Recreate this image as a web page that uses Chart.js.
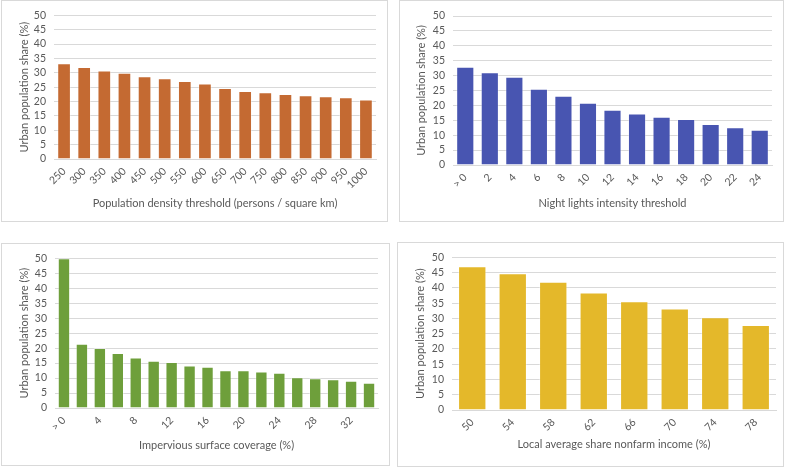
<!DOCTYPE html>
<html>
<head>
<meta charset="utf-8">
<script src="https://cdn.jsdelivr.net/npm/chart.js@4/dist/chart.umd.min.js"></script>
<style>
  html, body { margin: 0; padding: 0; background: #ffffff; }
  body { width: 789px; height: 468px; position: relative; overflow: hidden; }
  .panel { position: absolute; box-sizing: border-box; border: 1px solid #d9d9d9; background: #fff; }
  canvas { position: absolute; left: 0; top: 0; }
</style>
</head>
<body>
<div class="panel" id="p1"><canvas id="c1"></canvas></div>
<div class="panel" id="p2"><canvas id="c2"></canvas></div>
<div class="panel" id="p3"><canvas id="c3"></canvas></div>
<div class="panel" id="p4"><canvas id="c4"></canvas></div>
<script>
// ---- data ----
const densityLabels = ["250","300","350","400","450","500","550","600","650","700","750","800","850","900","950","1000"];
const densityValues = [33.3,32.0,30.8,30.0,28.8,28.1,27.1,26.3,24.7,23.7,23.2,22.6,22.2,21.8,21.5,20.7];

const lightsLabels = ["> 0","2","4","6","8","10","12","14","16","18","20","22","24"];
const lightsValues = [33.0,31.1,29.6,25.6,23.2,20.9,18.5,17.3,16.2,15.4,13.8,12.7,11.8];

const imperviousLabels = ["> 0","2","4","6","8","10","12","14","16","18","20","22","24","26","28","30","32","34"];
const imperviousValues = [50.0,21.5,20.0,18.4,16.9,15.8,15.4,14.2,13.8,12.6,12.6,12.2,11.8,10.3,9.9,9.6,9.1,8.4];

const nonfarmLabels = ["50","54","58","62","66","70","74","78"];
const nonfarmValues = [47.1,44.8,42.0,38.5,35.6,33.2,30.4,27.8];

const yTicks = [0,5,10,15,20,25,30,35,40,45,50];
const yTitle = "Urban population share (%)";

// ---- layout ----
const panels = [
  { id: "1", box: {x:1, y:0, w:387, h:222}, plot: {l:53, t:14, r:375, b:158}, xTitlePad: 13, yTitlePad: 16,
    labels: densityLabels, values: densityValues, color: "#C46A32", barPct: 0.68, every: 1,
    xTitle: "Population density threshold (persons / square km)" },
  { id: "2", box: {x:399, y:0, w:385, h:222}, plot: {l:452, t:15, r:771, b:164}, xTitlePad: 13, yTitlePad: 15,
    labels: lightsLabels, values: lightsValues, color: "#4855B1", barPct: 0.74, every: 1,
    xTitle: "Night lights intensity threshold" },
  { id: "3", box: {x:1, y:243, w:389, h:223}, plot: {l:54, t:255, r:377, b:407}, xTitlePad: 15, yTitlePad: 16,
    labels: imperviousLabels, values: imperviousValues, color: "#6E9F3B", barPct: 0.69, every: 2,
    xTitle: "Impervious surface coverage (%)" },
  { id: "4", box: {x:397, y:242, w:387, h:225}, plot: {l:451, t:254, r:775, b:409}, xTitlePad: 17, yTitlePad: 16,
    labels: nonfarmLabels, values: nonfarmValues, color: "#E4B82A", barPct: 0.70, every: 1,
    xTitle: "Local average share nonfarm income (%)" }
];

const FONT = "Lato, 'Open Sans', sans-serif";
const TXT = "#595959";

panels.forEach(p => {
  const div = document.getElementById("p" + p.id);
  div.style.left = p.box.x + "px";
  div.style.top = p.box.y + "px";
  div.style.width = p.box.w + "px";
  div.style.height = p.box.h + "px";
  const cv = document.getElementById("c" + p.id);
  cv.width = p.box.w; cv.height = p.box.h;
  cv.style.width = p.box.w + "px"; cv.style.height = p.box.h + "px";

  const yWidth = p.plot.l - p.box.x;
  const xHeight = (p.box.y + p.box.h) - p.plot.b;
  const padTop = p.plot.t - p.box.y;
  const padRight = (p.box.x + p.box.w) - p.plot.r;

  new Chart(cv, {
    type: "bar",
    data: {
      labels: p.labels,
      datasets: [{
        data: p.values,
        backgroundColor: p.color,
        borderColor: "rgba(255,255,255,0.35)",
        borderWidth: 1,
        barPercentage: p.barPct,
        categoryPercentage: 1.0
      }]
    },
    options: {
      responsive: false,
      animation: false,
      devicePixelRatio: 1,
      layout: { padding: { top: padTop, right: padRight, bottom: 0, left: 0 } },
      plugins: { legend: { display: false }, tooltip: { enabled: false } },
      scales: {
        x: {
          grid: { display: false, drawTicks: false },
          border: { display: true, color: "#d9d9d9", width: 1 },
          ticks: {
            autoSkip: false, minRotation: 45, maxRotation: 45, padding: 6,
            color: TXT, font: { family: FONT, size: 10.5 },
            callback: function(v, i) { return (i % p.every === 0) ? p.labels[i] : ""; }
          },
          title: { display: true, text: p.xTitle, color: TXT, font: { family: FONT, size: 11 },
                   padding: { top: 0, bottom: p.xTitlePad } },
          afterFit: s => { s.height = xHeight; }
        },
        y: {
          min: 0, max: 50,
          afterBuildTicks: s => { s.ticks = yTicks.map(v => ({ value: v })); },
          grid: { color: "#d9d9d9", lineWidth: 1, drawTicks: false },
          border: { display: false },
          ticks: { autoSkip: false, padding: 8, color: TXT, font: { family: FONT, size: 10.5 } },
          title: { display: true, text: yTitle, color: TXT, font: { family: FONT, size: 11 },
                   padding: { top: p.yTitlePad, bottom: 0 } },
          afterFit: s => { s.width = yWidth; }
        }
      }
    }
  });
});
</script>
</body>
</html>
